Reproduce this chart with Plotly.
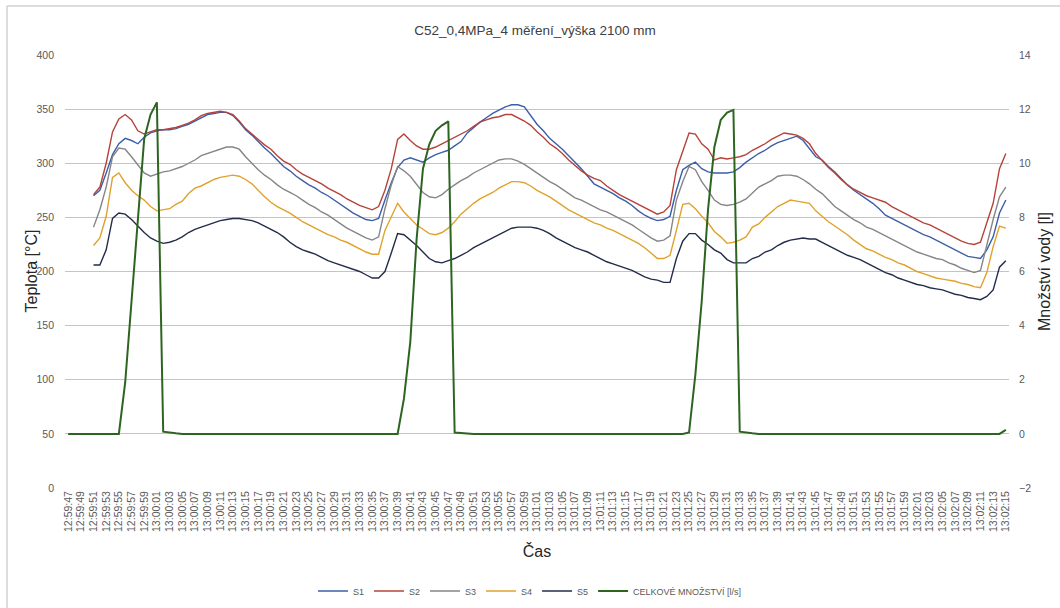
import plotly.graph_objects as go
from datetime import datetime, timedelta

# Category labels: one per second from 12:59:47 to 13:02:15
start = datetime(2000, 1, 1, 12, 59, 47)
times = [(start + timedelta(seconds=k)).strftime("%H:%M:%S") for k in range(149)]
tick_labels = times[::2]

# Temperature series (start at 12:59:51)
S1 = [270, 275, 291, 308, 318, 323, 321, 318, 324, 328, 330, 331, 331, 332, 334, 336, 339, 342, 345, 346,
      347, 347, 344, 338, 331, 326, 320, 314, 309, 303, 297, 293, 288, 284, 280, 277, 273, 270, 266, 262,
      258, 254, 251, 248, 247, 249, 266, 282, 296, 303, 305, 303, 301, 305, 308, 310, 312, 316, 320, 328,
      333, 338, 342, 346, 349, 352, 354, 354, 352, 344, 336, 330, 323, 318, 313, 307, 301, 295, 288, 281,
      278, 275, 272, 268, 265, 261, 256, 252, 249, 247, 248, 251, 275, 294, 298, 301, 295, 292, 291, 291,
      291, 292, 296, 301, 305, 309, 312, 316, 319, 321, 323, 325, 321, 313, 306, 303, 297, 292, 286, 280,
      275, 271, 267, 263, 258, 252, 249, 246, 243, 240, 237, 234, 232, 229, 226, 223, 220, 217, 214, 213,
      212, 220, 232, 254, 266]
S2 = [271, 278, 300, 329, 341, 345, 340, 330, 327, 329, 331, 331, 332, 333, 335, 337, 340, 344, 346, 347,
      348, 347, 345, 339, 332, 327, 322, 317, 313, 307, 302, 299, 294, 290, 287, 284, 281, 277, 274, 271,
      267, 264, 261, 259, 257, 260, 275, 295, 322, 327, 321, 316, 313, 313, 315, 318, 321, 324, 327, 330,
      334, 338, 340, 342, 343, 345, 345, 342, 339, 335, 329, 324, 318, 314, 309, 303, 298, 293, 289, 286,
      284, 279, 275, 271, 268, 265, 262, 259, 256, 253, 255, 261, 294, 311, 328, 327, 318, 313, 303, 305,
      304, 305, 306, 308, 312, 315, 318, 322, 325, 328, 327, 326, 323, 318, 309, 302, 296, 291, 285, 280,
      276, 273, 270, 268, 266, 264, 260, 257, 254, 251, 248, 245, 243, 240, 237, 234, 231, 228, 226, 225,
      227, 245, 263, 295, 309]
S3 = [241, 257, 278, 306, 314, 313, 306, 298, 291, 288, 290, 292, 293, 295, 297, 300, 303, 307, 309, 311,
      313, 315, 315, 313, 306, 300, 294, 289, 285, 280, 276, 273, 270, 266, 262, 259, 255, 252, 248, 244,
      240, 237, 234, 231, 229, 232, 258, 280, 297, 293, 288, 280, 273, 269, 268, 271, 276, 280, 284, 287,
      291, 294, 297, 300, 303, 304, 304, 302, 299, 295, 291, 287, 283, 280, 276, 272, 268, 266, 263, 260,
      257, 255, 252, 249, 246, 243, 239, 235, 231, 228, 229, 233, 266, 283, 297, 294, 283, 275, 266, 262,
      261, 262, 264, 267, 273, 278, 281, 284, 288, 289, 289, 288, 285, 281, 276, 272, 266, 260, 256, 252,
      248, 245, 241, 239, 236, 233, 230, 227, 224, 221, 218, 216, 214, 212, 211, 208, 206, 203, 201, 199,
      201, 226, 248, 269, 278]
S4 = [224, 231, 251, 287, 291, 282, 275, 270, 266, 260, 256, 257, 258, 262, 265, 272, 277, 279, 282, 285,
      287, 288, 289, 288, 285, 281, 275, 269, 264, 260, 257, 254, 250, 246, 243, 240, 237, 234, 232, 229,
      227, 224, 221, 218, 216, 216, 238, 251, 263, 255, 249, 243, 239, 235, 234, 236, 240, 246, 253, 258,
      263, 267, 270, 273, 277, 280, 283, 283, 282, 279, 275, 272, 269, 265, 261, 257, 254, 251, 248, 245,
      243, 240, 238, 235, 232, 229, 226, 222, 217, 212, 212, 215, 238, 262, 263, 258, 251, 245, 237, 232,
      226, 227, 229, 232, 241, 244, 250, 255, 260, 263, 266, 265, 264, 263, 256, 251, 246, 242, 238, 234,
      229, 225, 221, 219, 216, 213, 211, 208, 206, 203, 200, 198, 196, 194, 193, 192, 191, 189, 188, 186,
      185, 199, 223, 242, 240]
S5 = [206, 206, 220, 249, 254, 253, 248, 242, 236, 231, 228, 226, 227, 229, 232, 236, 239, 241, 243, 245,
      247, 248, 249, 249, 248, 247, 245, 242, 239, 236, 232, 227, 223, 220, 218, 216, 213, 210, 208, 206,
      204, 202, 200, 197, 194, 194, 200, 217, 235, 234, 229, 224, 218, 212, 209, 208, 210, 212, 215, 218,
      222, 225, 228, 231, 234, 237, 240, 241, 241, 241, 240, 238, 235, 231, 228, 225, 222, 220, 218, 215,
      212, 209, 207, 205, 203, 201, 198, 195, 193, 192, 190, 190, 212, 228, 235, 235, 229, 225, 220, 217,
      211, 208, 208, 208, 212, 214, 218, 220, 224, 227, 229, 230, 231, 230, 230, 227, 224, 221, 218, 215,
      213, 211, 208, 205, 202, 199, 197, 194, 192, 190, 188, 187, 185, 184, 183, 181, 179, 178, 176, 175,
      174, 177, 183, 204, 210]

# Total water flow (whole time range)
FLOW = [0, 0, 0, 0, 0, 0, 0, 0, 0, 1.9, 4.8, 7.9, 10.9, 11.8, 12.25, 0.08, 0.04, 0.02, 0, 0,
        0, 0, 0, 0, 0, 0, 0, 0, 0, 0, 0, 0, 0, 0, 0, 0, 0, 0, 0, 0,
        0, 0, 0, 0, 0, 0, 0, 0, 0, 0, 0, 0, 0, 1.3, 3.4, 7.2, 9.8, 10.7, 11.2, 11.4,
        11.55, 0.05, 0.03, 0.01, 0, 0, 0, 0, 0, 0, 0, 0, 0, 0, 0, 0, 0, 0, 0, 0,
        0, 0, 0, 0, 0, 0, 0, 0, 0, 0, 0, 0, 0, 0, 0, 0, 0, 0, 0.05, 2.2,
        4.9, 8.3, 10.6, 11.6, 11.87, 11.97, 0.08, 0.04, 0.02, 0, 0, 0, 0, 0, 0, 0, 0, 0, 0, 0,
        0, 0, 0, 0, 0, 0, 0, 0, 0, 0, 0, 0, 0, 0, 0, 0, 0, 0, 0, 0,
        0, 0, 0, 0, 0, 0, 0, 0, 0.15]

pad = [None] * 4
series = [("S1", S1, "#3b5ea8"), ("S2", S2, "#b5433a"), ("S3", S3, "#858585"),
          ("S4", S4, "#dfa22c"), ("S5", S5, "#222c4a")]

SANS = "Liberation Sans, Arial, sans-serif"
L, R, T, B = 65, 51, 55, 120
PW = 1060 - L - R
PH = 608 - T - B

fig = go.Figure()
for name, vals, col in series:
    fig.add_trace(go.Scatter(x=times, y=pad + vals, name=name, mode="lines",
                             line=dict(color=col, width=1.4), yaxis="y"))
fig.add_trace(go.Scatter(x=times, y=FLOW, name="CELKOVÉ MNOŽSTVÍ [l/s]", mode="lines",
                         line=dict(color="#2d6420", width=2), yaxis="y2"))

fig.update_layout(
    width=1060, height=608,
    margin=dict(l=L, r=R, t=T, b=B, autoexpand=False),
    paper_bgcolor="white", plot_bgcolor="white",
    font=dict(family=SANS, color="#595959"),
    title=dict(text="C52_0,4MPa_4 měření_výška 2100 mm", x=(535 - L) / PW, xref="paper", xanchor="center",
               y=1 - 30 / 608, yanchor="middle", font=dict(size=13.5, color="#404040", family=SANS)),
    xaxis=dict(type="category", range=[-0.5, 148.5], tickmode="array", automargin=False,
               tickvals=tick_labels, ticktext=tick_labels, tickangle=-90,
               tickfont=dict(size=10.5, color="#595959", family=SANS),
               showgrid=False, showline=False, zeroline=False, ticks="",
               title=dict(text="Čas", font=dict(size=16, color="#262626", family=SANS),
                          standoff=14)),
    yaxis=dict(range=[0, 400], dtick=50, tick0=0, showgrid=True, gridcolor="#c4c4c4", gridwidth=1,
               zeroline=False, showline=False, ticks="", ticklabelstandoff=10, automargin=False,
               tickfont=dict(size=10.5, color="#595959", family=SANS)),
    yaxis2=dict(range=[-2, 14], dtick=2, tick0=0, overlaying="y", side="right", showgrid=False,
                zeroline=False, showline=False, ticks="", ticklabelstandoff=9, automargin=False,
                tickfont=dict(size=10.5, color="#595959", family=SANS),
                title=dict(text="Množství vody [l]", font=dict(size=16, color="#262626", family=SANS),
                           standoff=8)),
    legend=dict(orientation="h", x=(530 - L) / PW, xanchor="center", y=-(591 - 488) / PH, yanchor="middle",
                font=dict(size=9, color="#595959", family=SANS), itemwidth=30,
                bgcolor="rgba(0,0,0,0)"),
    showlegend=True,
    annotations=[dict(text="Teplota [°C]", xref="paper", yref="paper", x=(31 - L) / PW, y=0.5,
                      xanchor="center", yanchor="middle", textangle=-90, showarrow=False,
                      font=dict(size=16, color="#262626", family=SANS))],
)

# light chart-area border (left and top edges)
fig.add_shape(type="line", xref="paper", yref="paper", x0=(7 - L) / PW, x1=(7 - L) / PW,
              y0=(488 - 610) / PH, y1=(488 - 6) / PH, line=dict(color="#d0d0d0", width=1.5))
fig.add_shape(type="line", xref="paper", yref="paper", x0=(7 - L) / PW, x1=(1060 - L) / PW,
              y0=(488 - 6) / PH, y1=(488 - 6) / PH, line=dict(color="#d0d0d0", width=1.5))

fig.write_html("out.html")
